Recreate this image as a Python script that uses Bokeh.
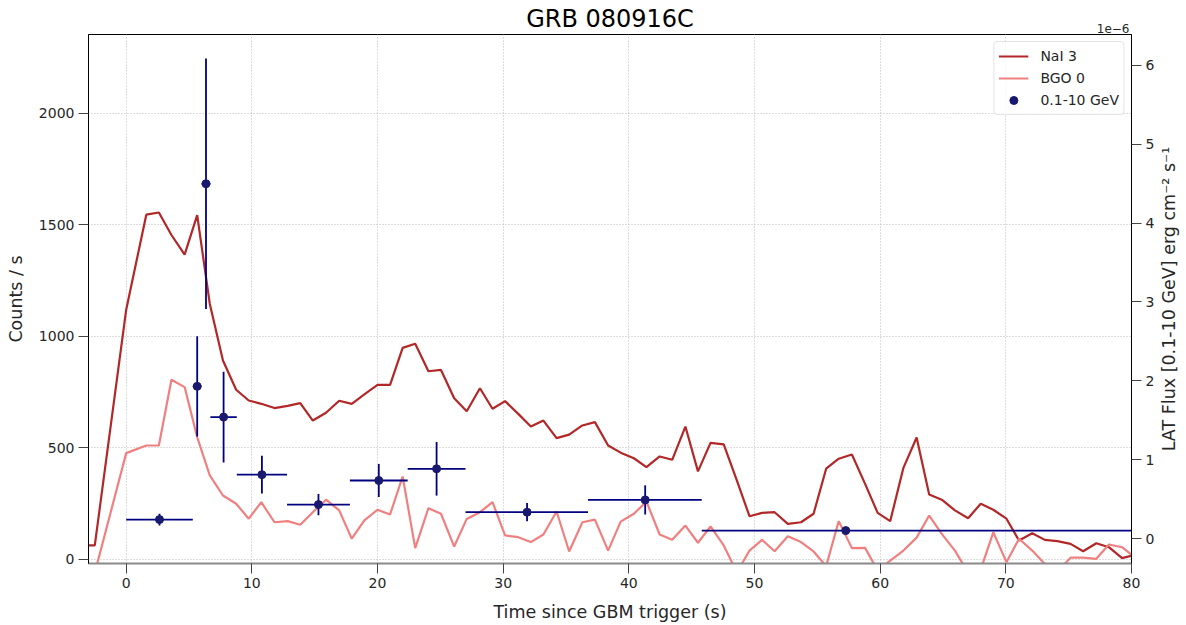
import math
from bokeh.plotting import figure
from bokeh.layouts import column, row
from bokeh.models import (Range1d, LinearAxis, Legend, LegendItem, FixedTicker,
                          CustomJSTickFormatter)
from bokeh.core.properties import value
from bokeh.embed import file_html
from bokeh.resources import INLINE

# GBM light curves, counts per second in ~1.024 s bins
gbm_time = [-3.5, -2.5, 0.0, 1.6, 2.6, 3.6, 4.65, 5.65, 6.65, 7.7, 8.75, 9.75, 10.75,
            11.8, 12.85, 13.85, 14.85, 15.9, 16.95, 17.95, 18.95, 20.0, 21.0, 22.0,
            23.0, 24.05, 25.05, 26.1, 27.1, 28.15, 29.15, 30.15, 31.2, 32.2, 33.2,
            34.25, 35.25, 36.3, 37.3, 38.35, 39.35, 40.4, 41.4, 42.45, 43.45, 44.5,
            45.5, 46.5, 47.55, 48.6, 49.6, 50.6, 51.6, 52.65, 53.7, 54.7, 55.7, 56.7,
            57.75, 58.8, 59.8, 60.8, 61.85, 62.9, 63.9, 64.9, 65.95, 67.0, 68.0, 69.0,
            70.05, 71.05, 72.1, 73.1, 74.1, 75.15, 76.15, 77.2, 78.2, 79.25, 80.25]

nai3_rate = [63, 63, 1120, 1546, 1556, 1455, 1367, 1544, 1147, 892, 761, 713, 698,
             679, 689, 701, 623, 658, 712, 698, 740, 783, 783, 949,
             967, 844, 850, 723, 665, 768, 676, 710, 653, 596, 623,
             544, 560, 601, 616, 511, 479, 454, 414, 462, 447, 596,
             395, 523, 516, 354, 194, 209, 212, 160, 167, 205, 407, 452,
             471, 339, 209, 172, 411, 547, 291, 268, 220, 185, 250, 223,
             183, 85, 118, 88, 82, 70, 37, 73, 55, 6, 20]

bgo0_rate = [-60, -60, 477, 511, 511, 806, 773, 548, 377, 287, 250, 183, 257,
             167, 172, 156, 212, 268, 220, 93, 175, 223, 202, 372,
             51, 230, 205, 58, 182, 212, 257, 108, 100, 78, 112,
             215, 36, 167, 179, 40, 170, 205, 260, 112, 88, 152,
             75, 148, 63, -58, 40, 88, 37, 104, 78, 36, -30, 172,
             51, 52, -50, -5, 40, 98, 197, 115, 40, -60, -45, 122,
             -12, 93, 40, -20, -55, 8, 8, 3, 67, 55, 10]

# Fermi-LAT 0.1-10 GeV energy flux (erg cm^-2 s^-1) per time bin
lat_time = [2.65, 5.65, 6.35, 7.75, 10.8, 15.3, 20.1, 24.7, 31.9, 41.3, 57.26]
lat_time_lo = [0.0, 5.3, 6.0, 6.7, 8.8, 12.8, 17.8, 22.4, 27.0, 36.75, 45.8]
lat_time_hi = [5.3, 6.0, 6.7, 8.8, 12.8, 17.8, 22.4, 27.0, 36.75, 45.8, 100.0]
lat_flux = [0.24e-6, 1.93e-6, 4.50e-6, 1.54e-6, 0.81e-6, 0.43e-6, 0.736e-6,
            0.884e-6, 0.334e-6, 0.49e-6, 0.10e-6]
lat_flux_err = [0.075e-6, 0.635e-6, 1.59e-6, 0.575e-6, 0.24e-6, 0.135e-6, 0.21e-6,
                0.34e-6, 0.115e-6, 0.185e-6, 0.0]

x_ticks = [0, 10, 20, 30, 40, 50, 60, 70, 80]
count_ticks = [0, 500, 1000, 1500, 2000]
flux_ticks = [0, 1e-6, 2e-6, 3e-6, 4e-6, 5e-6, 6e-6]

TITLE = "GRB 080916C"
RIGHT_TITLE = "LAT Flux [0.1-10 GeV] erg cm\u207b\u00b2 s\u207b\u00b9"
FLUX_SCALE = "1e\u22126"

FONT = "DejaVu Sans"
TEXT_COLOR = "#262626"
NAI_COLOR = "#b22728"
BGO_COLOR = "#f08080"
LAT_COLOR = "#000080"
LAT_MARKER = "#191970"

x_range = Range1d(-3, 80)
y_range = Range1d(-18, 2354)

# ---- main panel -------------------------------------------------------------
p = figure(width=1157, height=591, output_backend="svg", toolbar_location=None,
           title=None, x_range=x_range, y_range=y_range,
           min_border_left=88, min_border_right=26, min_border_top=0,
           min_border_bottom=62)
p.extra_y_ranges = {"lat": Range1d(-0.317e-6, 6.393e-6)}

p.outline_line_color = "black"
p.outline_line_width = 1
p.background_fill_color = "white"
p.border_fill_color = "white"

right_axis = LinearAxis(y_range_name="lat")
p.add_layout(right_axis, "right")

xaxis = p.below[0]
yaxis = p.left[0]

xaxis.ticker = FixedTicker(ticks=x_ticks)
yaxis.ticker = FixedTicker(ticks=count_ticks)
right_axis.ticker = FixedTicker(ticks=flux_ticks)
right_axis.formatter = CustomJSTickFormatter(code="return (tick * 1e6).toFixed(0);")

for ax in (xaxis, yaxis, right_axis):
    ax.major_tick_out = 10
    ax.major_tick_in = 0
    ax.minor_tick_out = 0
    ax.minor_tick_in = 0
    ax.major_tick_line_color = "#444444"
    ax.major_tick_line_width = 1
    ax.major_label_text_font = FONT
    ax.major_label_text_font_size = "14px"
    ax.major_label_text_color = TEXT_COLOR
    ax.major_label_standoff = 4
    ax.axis_label_text_font = FONT
    ax.axis_label_text_font_size = "17.5px"
    ax.axis_label_text_font_style = "normal"
    ax.axis_label_text_color = TEXT_COLOR
    ax.axis_line_color = "black"
    ax.axis_line_width = 1

xaxis.axis_line_color = "#8a8a8a"
xaxis.axis_line_width = 2
xaxis.axis_label = "Time since GBM trigger (s)"
xaxis.axis_label_standoff = 11
yaxis.axis_label = "Counts / s"
yaxis.axis_label_standoff = 10

for g in (p.xgrid[0], p.ygrid[0]):
    g.grid_line_color = "#bdbdbd"
    g.grid_line_dash = "1 2"
    g.grid_line_width = 1
p.xgrid[0].ticker = xaxis.ticker
p.ygrid[0].ticker = yaxis.ticker

# GBM light curves
nai = p.line(gbm_time, nai3_rate, line_color=NAI_COLOR, line_width=2.2)
bgo = p.line(gbm_time, bgo0_rate, line_color=BGO_COLOR, line_width=2.2)

# LAT flux with error bars on the right-hand scale
flux_lo = [f - e for f, e in zip(lat_flux, lat_flux_err)]
flux_hi = [f + e for f, e in zip(lat_flux, lat_flux_err)]
p.segment(x0=lat_time_lo, y0=lat_flux, x1=lat_time_hi, y1=lat_flux,
          line_color=LAT_COLOR, line_width=1.8, y_range_name="lat")
p.segment(x0=lat_time, y0=flux_lo, x1=lat_time, y1=flux_hi,
          line_color=LAT_COLOR, line_width=1.8, y_range_name="lat")
lat_dot = p.scatter(lat_time, lat_flux, size=8, marker="circle",
                    fill_color=LAT_MARKER, line_color=LAT_MARKER, y_range_name="lat")

legend = Legend(items=[
    LegendItem(label="NaI 3", renderers=[nai]),
    LegendItem(label="BGO 0", renderers=[bgo]),
    LegendItem(label="0.1-10 GeV", renderers=[lat_dot]),
], location="top_right")
legend.margin = 7
legend.padding = 4
legend.spacing = 2
legend.glyph_width = 30
legend.glyph_height = 20
legend.label_height = 20
legend.label_standoff = 12
legend.label_text_font = FONT
legend.label_text_font_size = "14px"
legend.label_text_color = TEXT_COLOR
legend.border_line_color = "#cccccc"
legend.border_line_width = 1
legend.background_fill_alpha = 0.8
if "border_radius" in Legend.properties():
    legend.border_radius = 4
p.add_layout(legend)

# ---- strip above the frame: title and right-axis multiplier ----------------
top = figure(width=1186, height=34, output_backend="svg", toolbar_location=None,
             title=None, x_range=x_range, y_range=Range1d(0, 34),
             x_axis_location=None, y_axis_location=None,
             min_border_left=88, min_border_right=55, min_border_top=0,
             min_border_bottom=0)
top.outline_line_color = None
top.grid.visible = False
top.text(x=[(x_range.start + x_range.end) / 2], y=[16], text=[TITLE],
         text_align="center", text_baseline="middle", text_font=value(FONT),
         text_font_size=value("24px"), text_color="black")
top.text(x=[x_range.end], y=[2], text=[FLUX_SCALE], x_offset=-2,
         text_align="right", text_baseline="bottom", text_font=value(FONT),
         text_font_size=value("12px"), text_color=TEXT_COLOR)

# ---- strip right of the main panel: right-axis title -----------------------
side = figure(width=29, height=591, output_backend="svg", toolbar_location=None,
              title=None, x_range=Range1d(0, 1), y_range=y_range,
              x_axis_location=None, y_axis_location=None,
              min_border_left=0, min_border_right=0, min_border_top=0,
              min_border_bottom=62)
side.outline_line_color = None
side.grid.visible = False
side.text(x=[0.5], y=[(y_range.start + y_range.end) / 2], text=[RIGHT_TITLE],
          x_offset=-3, angle=math.pi / 2, text_align="center",
          text_baseline="middle", text_font=value(FONT),
          text_font_size=value("17.5px"), text_color=TEXT_COLOR)

page = column(top, row(p, side))
open("out.html", "w").write(file_html(page, INLINE))
